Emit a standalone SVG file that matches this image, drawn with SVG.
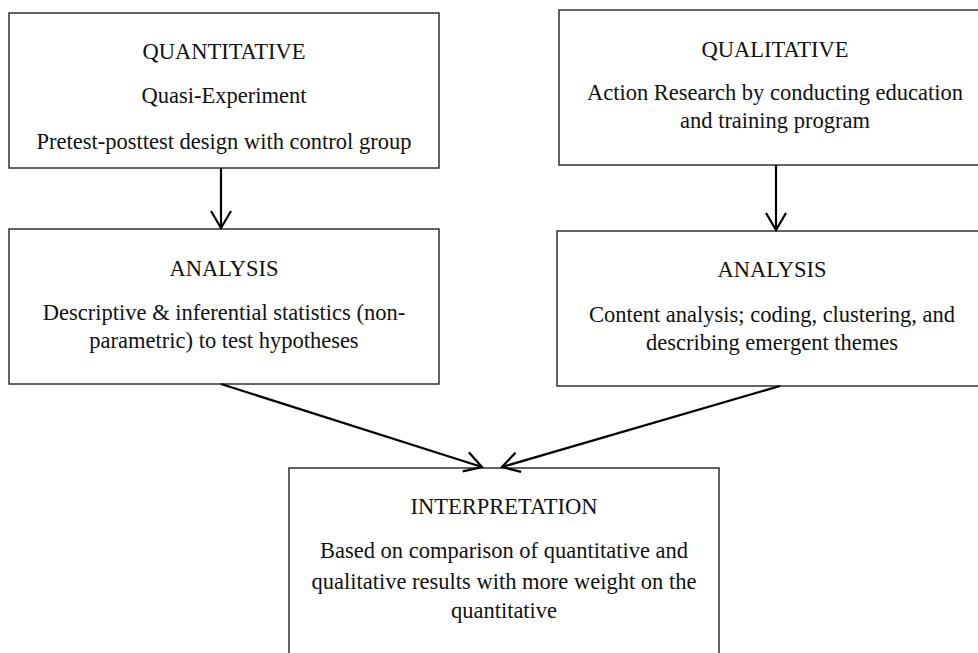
<svg xmlns="http://www.w3.org/2000/svg" width="978" height="653" viewBox="0 0 978 653">
<defs>
<style>
.box{fill:#fff;stroke:#222;stroke-width:1.4}
.t{font-family:'Liberation Serif','Tinos','Times New Roman','DejaVu Serif',serif;font-size:22.5px;fill:#111;text-anchor:middle}
.c{fill:none;stroke:#000;stroke-width:2.2}
</style>
<marker id="ah" viewBox="0 0 20 22" refX="18" refY="11" markerWidth="20" markerHeight="22" markerUnits="userSpaceOnUse" orient="auto">
<path d="M1,1 L18,11 L1,21" fill="none" stroke="#000" stroke-width="2.2"/>
</marker>
</defs>
<rect width="978" height="653" fill="#fff"/>
<g id="quantitative">
<rect class="box" x="9" y="13" width="430" height="155"/>
<text class="t" x="224" y="59">QUANTITATIVE</text>
<text class="t" x="224" y="103">Quasi-Experiment</text>
<text class="t" x="224" y="149">Pretest-posttest design with control group</text>
</g>
<g id="qualitative">
<rect class="box" x="559" y="10" width="432" height="155"/>
<text class="t" x="775" y="57">QUALITATIVE</text>
<text class="t" x="775" y="100">Action Research by conducting education</text>
<text class="t" x="775" y="128">and training program</text>
</g>
<g id="analysis-quant">
<rect class="box" x="9" y="229" width="430" height="155"/>
<text class="t" x="224" y="276">ANALYSIS</text>
<text class="t" x="224" y="320">Descriptive &amp; inferential statistics (non-</text>
<text class="t" x="224" y="348">parametric) to test hypotheses</text>
</g>
<g id="analysis-qual">
<rect class="box" x="557" y="231" width="432" height="155"/>
<text class="t" x="772" y="277">ANALYSIS</text>
<text class="t" x="772" y="322">Content analysis; coding, clustering, and</text>
<text class="t" x="772" y="350">describing emergent themes</text>
</g>
<g id="interpretation">
<rect class="box" x="289" y="468" width="430" height="200"/>
<text class="t" x="504" y="514">INTERPRETATION</text>
<text class="t" x="504" y="558">Based on comparison of quantitative and</text>
<text class="t" x="504" y="589">qualitative results with more weight on the</text>
<text class="t" x="504" y="618">quantitative</text>
</g>
<g id="connectors">
<line class="c" x1="221" y1="168" x2="221" y2="228" marker-end="url(#ah)"/>
<line class="c" x1="776" y1="165" x2="776" y2="230" marker-end="url(#ah)"/>
<line class="c" x1="221" y1="384" x2="482" y2="467" marker-end="url(#ah)"/>
<line class="c" x1="780" y1="386" x2="502" y2="467" marker-end="url(#ah)"/>
</g>
</svg>
